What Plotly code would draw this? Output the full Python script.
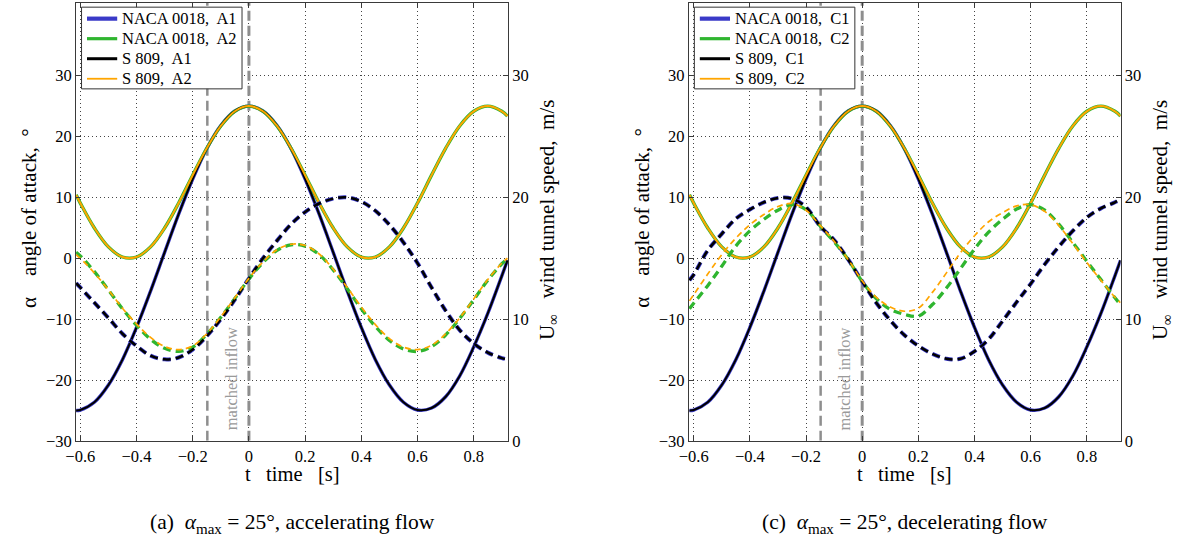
import plotly.graph_objects as go

W, H = 1179, 552
SERIF = "Liberation Serif"

# ---------------- data ----------------
T = [-0.615, -0.60, -0.55, -0.50, -0.45, -0.40, -0.35, -0.30, -0.25, -0.20, -0.15,
     -0.10, -0.05, 0.0, 0.05, 0.10, 0.15, 0.20, 0.25, 0.30, 0.35, 0.40, 0.45,
     0.50, 0.55, 0.60, 0.65, 0.70, 0.75, 0.80, 0.85, 0.90, 0.92]

# angle of attack [deg]
ALPHA_1 = [-25.0, -24.93, -23.66, -20.83, -16.66, -11.37, -5.39, 0.97, 7.24, 13.03, 18.02,
           21.81, 24.19, 25.0, 24.19, 21.81, 18.02, 13.03, 7.24, 0.97, -5.39, -11.37, -16.66,
           -20.83, -23.66, -24.93, -24.60, -22.75, -19.34, -14.56, -9.06, -2.88, -0.34]
ALPHA_2 = [10.42, 9.07, 4.98, 1.87, 0.21, 0.21, 1.87, 4.97, 9.08, 13.65, 18.07,
           21.74, 24.16, 25.0, 24.16, 21.74, 18.07, 13.65, 9.08, 4.97, 1.87, 0.21, 0.21,
           1.87, 4.97, 9.07, 13.66, 18.06, 21.74, 24.15, 25.0, 24.15, 23.36]

# wind tunnel speed [m/s] - accelerating flow (a)
U_A1 = [12.95, 12.6, 11.35, 10.1, 8.8, 7.8, 7.0, 6.7, 6.85, 7.5, 8.6,
        10.0, 11.6, 13.35, 15.0, 16.45, 17.8, 18.8, 19.5, 19.9, 20.0, 19.65, 18.9,
        17.75, 16.3, 14.6, 12.6, 10.7, 9.1, 8.0, 7.25, 6.8, 6.7]
U_A2_NACA = [15.5, 15.2, 13.9, 12.4, 10.85, 9.5, 8.35, 7.6, 7.35, 7.7, 8.75,
             10.15, 11.7, 13.3, 14.65, 15.65, 16.1, 16.0, 15.3, 14.05, 12.5, 10.85, 9.4,
             8.25, 7.55, 7.35, 7.75, 8.7, 10.05, 11.6, 13.2, 14.55, 14.95]
U_A2_S809 = [15.3, 15.0, 13.8, 12.4, 10.9, 9.6, 8.5, 7.75, 7.5, 7.8, 8.8,
             10.2, 11.75, 13.35, 14.7, 15.7, 16.15, 16.05, 15.35, 14.1, 12.6, 11.0, 9.55,
             8.4, 7.7, 7.5, 7.85, 8.8, 10.1, 11.65, 13.25, 14.6, 15.0]

# wind tunnel speed [m/s] - decelerating flow (c)
U_C1 = [13.2, 13.65, 15.65, 17.0, 18.25, 19.0, 19.6, 19.95, 19.9, 19.2, 17.65,
        16.5, 14.9, 13.1, 11.35, 9.9, 8.7, 7.8, 7.15, 6.75, 6.75, 7.35, 8.35,
        9.85, 11.4, 12.9, 14.5, 15.95, 17.25, 18.35, 19.1, 19.6, 19.85]
U_C2_NACA = [10.85, 11.3, 12.75, 14.35, 16.0, 17.25, 18.2, 18.95, 19.4, 19.0, 17.65,
             16.35, 14.9, 13.1, 11.7, 10.8, 10.4, 10.25, 11.2, 12.55, 14.15, 15.75, 17.15,
             18.2, 19.05, 19.4, 18.95, 17.8, 16.3, 14.75, 13.25, 11.75, 11.2]
U_C2_S809 = [11.5, 12.0, 13.7, 15.3, 16.65, 17.75, 18.6, 19.25, 19.5, 18.95, 17.7,
             16.4, 14.9, 13.15, 11.8, 11.0, 10.65, 10.9, 12.2, 13.8, 15.45, 16.85, 18.0,
             18.75, 19.3, 19.4, 18.85, 17.7, 16.2, 14.65, 13.2, 11.8, 11.35]

MATCH_T = [-0.148, 0.0]          # matched-inflow markers [s]
X_TICKS = [-0.6, -0.4, -0.2, 0.0, 0.2, 0.4, 0.6, 0.8]
X_TICKTEXT = ["\u22120.6", "\u22120.4", "\u22120.2", "0", "0.2", "0.4", "0.6", "0.8"]
Y_TICKS = [-30, -20, -10, 0, 10, 20, 30]
Y_TICKTEXT = ["\u221230", "\u221220", "\u221210", "0", "10", "20", "30"]
Y2_TICKS = [0, 10, 20, 30]
Y2_TICKTEXT = ["0", "10", "20", "30"]

LABELS_A = ["NACA 0018,\u00a0 A1", "NACA 0018,\u00a0 A2", "S 809,\u00a0 A1", "S 809,\u00a0 A2"]
LABELS_C = ["NACA 0018,\u00a0 C1", "NACA 0018,\u00a0 C2", "S 809,\u00a0 C1", "S 809,\u00a0 C2"]

BLUE, GREEN, BLACK, ORANGE = "#3a3ac8", "#2fb52f", "#000000", "#ffa500"
COLORS = [BLUE, GREEN, BLACK, ORANGE]
LEG_WIDTHS = [4.2, 3.2, 3.0, 1.8]
DASH = "8px,5px"

fig = go.Figure()


def add_panel(xa, ya, ya2, labels, u1, u2n, u2s):
    # matched inflow vertical markers
    for tv, w in zip(MATCH_T, [2.5, 3.0]):
        fig.add_trace(go.Scatter(x=[tv, tv], y=[-30, 42], mode="lines", xaxis=xa, yaxis=ya,
                                 line=dict(color="#8e8e8e", width=w, dash="10px,5px"),
                                 showlegend=False, hoverinfo="skip"))
    specs = [
        (labels[0], ALPHA_1, u1, BLUE, 3.4, 4.0, DASH),
        (labels[1], ALPHA_2, u2n, GREEN, 3.4, 3.3, DASH),
        (labels[2], ALPHA_1, u1, BLACK, 2.0, 2.5, DASH),
        (labels[3], ALPHA_2, u2s, ORANGE, 2.0, 1.7, "6px,4px"),
    ]
    for name, a, u, col, w, wd, dsh in specs:
        fig.add_trace(go.Scatter(x=T, y=a, mode="lines", name=name, xaxis=xa, yaxis=ya,
                                 line=dict(color=col, width=w, shape="spline", smoothing=1.0),
                                 showlegend=False, hoverinfo="skip"))
        fig.add_trace(go.Scatter(x=T, y=u, mode="lines", name=name, xaxis=xa, yaxis=ya2,
                                 line=dict(color=col, width=wd, dash=dsh, shape="spline", smoothing=1.0),
                                 showlegend=False, hoverinfo="skip"))


add_panel("x", "y", "y2", LABELS_A, U_A1, U_A2_NACA, U_A2_S809)
add_panel("x2", "y3", "y4", LABELS_C, U_C1, U_C2_NACA, U_C2_S809)

YDOM = [(H - 449) / H, (H - 2.7) / H]
XDOM1 = [65.7 / W, 501.7 / W]
XDOM2 = [684.3 / W, 1120.0 / W]

tickfont = dict(family=SERIF, size=16.5, color="black")
axcommon = dict(showline=True, linecolor="#3a3a3a", linewidth=1, ticks="inside", ticklen=5,
                tickcolor="#3a3a3a", tickfont=tickfont, zeroline=False)
gridcommon = dict(showgrid=True, gridcolor="#444444", gridwidth=1, griddash="1px,3px")

layout_axes = dict(
    xaxis=dict(domain=XDOM1, range=[-0.615, 0.922], anchor="y", tickmode="array",
               tickvals=X_TICKS, ticktext=X_TICKTEXT, mirror="ticks", **axcommon, **gridcommon),
    yaxis=dict(domain=YDOM, range=[-30, 42], anchor="x", tickmode="array",
               tickvals=Y_TICKS, ticktext=Y_TICKTEXT, **axcommon, **gridcommon),
    yaxis2=dict(range=[0, 36], overlaying="y", side="right", anchor="x", tickmode="array",
                tickvals=Y2_TICKS, ticktext=Y2_TICKTEXT, showgrid=False, **axcommon),
    xaxis2=dict(domain=XDOM2, range=[-0.617, 0.92], anchor="y3", tickmode="array",
                tickvals=X_TICKS, ticktext=X_TICKTEXT, mirror="ticks", **axcommon, **gridcommon),
    yaxis3=dict(domain=YDOM, range=[-30, 42], anchor="x2", tickmode="array",
                tickvals=Y_TICKS, ticktext=Y_TICKTEXT, **axcommon, **gridcommon),
    yaxis4=dict(range=[0, 36], overlaying="y3", side="right", anchor="x2", tickmode="array",
                tickvals=Y2_TICKS, ticktext=Y2_TICKTEXT, showgrid=False, **axcommon),
)

fig.update_layout(
    width=W, height=H, margin=dict(l=0, r=0, t=0, b=0),
    paper_bgcolor="white", plot_bgcolor="white", showlegend=False,
    font=dict(family=SERIF, size=16, color="black"),
    **layout_axes,
)


def px(xp, yp):
    return xp / W, 1 - yp / H


annots = []
shapes = []
titlefont = dict(family=SERIF, size=21, color="black")
panels = [
    (65.7, 18.3, 542.0, 283.7, LABELS_A,
     "(a)\u00a0 <i>\u03b1</i><sub>max</sub> = 25\u00b0, accelerating flow"),
    (684.3, 636.8, 1161.0, 902.0, LABELS_C,
     "(c)\u00a0 <i>\u03b1</i><sub>max</sub> = 25\u00b0, decelerating flow"),
]
for (xaxl, xl, xr, xc, labels, cap) in panels:
    x0, y0 = px(xl, 222)
    annots.append(dict(x=x0, y=y0, xref="paper", yref="paper", showarrow=False, textangle=-90,
                       text="\u03b1\u00a0\u00a0\u00a0 angle of attack,\u00a0 \u00b0", font=titlefont,
                       xanchor="center", yanchor="middle"))
    x1, y1 = px(xr, 224)
    annots.append(dict(x=x1, y=y1, xref="paper", yref="paper", showarrow=False, textangle=-90,
                       text="U<sub>\u221e</sub>\u00a0\u00a0 wind tunnel speed,\u00a0 m/s", font=titlefont,
                       xanchor="center", yanchor="middle"))
    x2, y2 = px(xc, 483)
    annots.append(dict(x=x2, y=y2, xref="paper", yref="paper", showarrow=False,
                       text="t\u00a0\u00a0 time\u00a0\u00a0 [s]", font=dict(family=SERIF, size=20.5, color="black"),
                       xanchor="center", yanchor="middle"))
    x3, y3 = px(xc, 533)
    annots.append(dict(x=x3, y=y3, xref="paper", yref="paper", showarrow=False,
                       text=cap, font=dict(family=SERIF, size=21.5, color="black"),
                       xanchor="center", yanchor="middle"))

    # legend box (drawn above the curves)
    lx0 = xaxl + 5.5
    bx0, by0 = px(lx0, 7.3)
    bx1, by1 = px(lx0 + 162, 90.5)
    shapes.append(dict(type="rect", xref="paper", yref="paper", x0=bx0, x1=bx1, y0=by1, y1=by0,
                       fillcolor="white", line=dict(color="#333333", width=1), layer="above"))
    for i, (lab, col, lw) in enumerate(zip(labels, COLORS, LEG_WIDTHS)):
        yy = 19 + i * 20.4
        sx0, sy = px(lx0 + 5.5, yy)
        sx1, _ = px(lx0 + 36, yy)
        shapes.append(dict(type="line", xref="paper", yref="paper", x0=sx0, x1=sx1, y0=sy, y1=sy,
                           line=dict(color=col, width=lw), layer="above"))
        tx, ty = px(lx0 + 38.5, yy)
        annots.append(dict(x=tx, y=ty, xref="paper", yref="paper", showarrow=False, text=lab,
                           font=dict(family=SERIF, size=16.5, color="black"),
                           xanchor="left", yanchor="middle"))

for xa, ya in [("x", "y"), ("x2", "y3")]:
    annots.append(dict(x=-0.062, y=-19.8, xref=xa, yref=ya, showarrow=False, textangle=-90,
                       text="matched inflow", font=dict(family=SERIF, size=16.5, color="#9a9a9a"),
                       xanchor="center", yanchor="middle"))

fig.update_layout(annotations=annots, shapes=shapes)

fig.write_html("out.html")
